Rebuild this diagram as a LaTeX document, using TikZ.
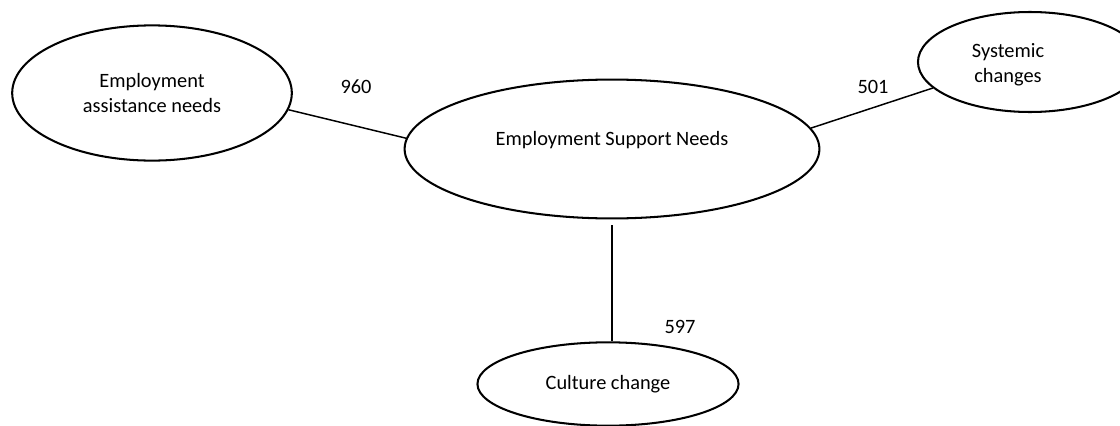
\documentclass[tikz,border=0pt]{standalone}
\usepackage{fontspec}
\setmainfont{Carlito}
\usetikzlibrary{shapes.geometric, positioning}

\begin{document}
\begin{tikzpicture}[x=0.54pt, y=-0.54pt,
		every node/.style={font=\fontsize{11}{13.6}\selectfont},
		bubble/.style={ellipse, draw=black, line width=1.1pt, inner sep=0pt, align=center},
		link/.style={line width=0.8pt},
		num/.style={inner sep=0pt}]
		%-------------------------------------------------------------------------------
		% employment support
		%-------------------------------------------------------------------------------
		\path[use as bounding box, clip] (0,0) rectangle (1120,425);

		% core nodes
		\node[bubble, minimum width=151pt, minimum height=73pt] (ean) 
			at (152,93) {Employment\\assistance needs};
		\node[bubble, minimum width=224pt, minimum height=75pt] (esn) 
			at (612,149) {};
		\node[inner sep=0pt] (esntxt) 
			at (612,140) {Employment Support Needs};
		\node[bubble, minimum width=121pt, minimum height=54pt] (sys) 
			at (1030,62) {};
		\node[inner sep=0pt, align=center] (systxt) 
			at (1008,65) {Systemic\\changes};
		\node[bubble, minimum width=141pt, minimum height=45pt] (cul) 
			at (608,384) {Culture change};

		% links
		\draw[link] (ean.-7) -- (esn.177);
		\draw[link] (esn.6) -- (sys.195);
		\draw[link, shorten <=3pt] (esn.south) -- (esn.south |- cul.north);

		% counts
		\node[num] (n960) at (356,87) {960};
		\node[num] (n501) at (873,87) {501};
		\node[num] (n597) at (680,327) {597};
		\end{tikzpicture}
\end{document}
